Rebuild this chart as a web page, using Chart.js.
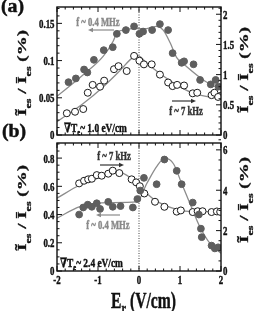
<!DOCTYPE html>
<html lang="en">
<head>
<meta charset="UTF-8">
<script src="https://cdn.jsdelivr.net/npm/chart.js@4.4.1/dist/chart.umd.min.js"></script>
<style>
  body { margin: 0; background: #fff; }
  #wrap { position: relative; width: 260px; height: 311px; overflow: hidden; }
  .panel { position: absolute; left: 0; width: 260px; }
</style>
</head>
<body>
<div id="wrap">
  <div class="panel" style="top:0;height:143px"><canvas id="chart-a"></canvas></div>
  <div class="panel" style="top:118px;height:193px"><canvas id="chart-b"></canvas></div>
</div>
<script>
// ---- data ----
var xTicks = [-2, -1, 0, 1, 2];

// (a) grad Te ~ 1.0 eV/cm
var aMhzE   = [-1.72, -1.54, -1.34, -1.26, -1.10, -0.86, -0.64, -0.54, -0.32, -0.12, 0.01, 0.10, 0.32, 0.51, 0.71, 0.82, 1.04, 1.10, 1.33, 1.49, 1.75, 1.87, 1.94];
var aMhzVal = [0.071, 0.076, 0.088, 0.084, 0.101, 0.114, 0.118, 0.136, 0.141, 0.146, 0.136, 0.139, 0.141, 0.149, 0.141, 0.110, 0.097, 0.099, 0.095, 0.074, 0.068, 0.074, 0.065];
var aKhzE   = [-1.76, -1.56, -1.36, -1.25, -1.13, -0.95, -0.85, -0.61, -0.50, -0.30, -0.12, 0.01, 0.12, 0.31, 0.51, 0.71, 0.82, 0.93, 1.10, 1.31, 1.42, 1.77, 1.84, 1.93];
var aKhzVal = [0.36, 0.385, 0.43, 0.70, 0.83, 0.80, 0.90, 1.09, 1.14, 1.06, 1.31, 1.23, 1.17, 1.17, 1.00, 0.87, 0.81, 0.83, 0.82, 0.69, 0.70, 0.66, 0.70, 0.63];
var aMhzFitE   = [-2, -1.36, -0.87, -0.63, -0.53, -0.38, -0.14, 0.19, 0.43, 0.59, 0.76, 0.92, 1.16, 1.57, 2];
var aMhzFitVal = [0.052, 0.081, 0.106, 0.126, 0.138, 0.141, 0.143, 0.143, 0.146, 0.141, 0.124, 0.104, 0.092, 0.074, 0.061];
var aKhzFitE   = [-2, -1.36, -0.87, -0.46, -0.14, -0.02, 0.19, 0.51, 0.92, 1.33, 2];
var aKhzFitVal = [0.22, 0.52, 0.80, 1.07, 1.29, 1.31, 1.19, 1.02, 0.83, 0.69, 0.60];
var aLeftTicks  = [0, 0.05, 0.1, 0.15];
var aRightTicks = [0, 0.5, 1, 1.5, 2];

// (b) grad Te ~ 2.4 eV/cm
var bKhzE   = [-1.46, -1.34, -1.24, -1.15, -1.03, -0.91, -0.75, -0.64, -0.48, -0.18, -0.07, 0.02, 0.13, 0.39, 0.62, 0.92, 1.02, 1.31, 1.43, 1.55, 1.77, 1.90, 1.98];
var bKhzVal = [4.34, 4.47, 4.54, 4.57, 4.75, 4.72, 4.82, 4.97, 4.85, 4.54, 4.39, 4.20, 3.84, 3.43, 3.18, 2.94, 3.00, 2.92, 2.96, 2.96, 2.92, 2.95, 2.93];
var bMhzE   = [-1.46, -1.36, -1.25, -1.15, -1.03, -0.95, -0.75, -0.64, -0.45, -0.15, -0.04, 0.03, 0.12, 0.43, 0.62, 0.92, 1.04, 1.31, 1.46, 1.51, 1.53, 1.77, 1.85, 1.93];
var bMhzVal = [0.40, 0.45, 0.47, 0.455, 0.48, 0.44, 0.49, 0.455, 0.46, 0.45, 0.51, 0.57, 0.66, 0.615, 0.79, 0.71, 0.615, 0.485, 0.40, 0.30, 0.24, 0.18, 0.16, 0.168];
var bKhzFitE   = [-2, -1.44, -1.0, -0.71, -0.46, -0.2, 0.02, 0.39, 0.92, 1.32, 2];
var bKhzFitVal = [3.61, 4.26, 4.60, 4.87, 4.87, 4.60, 4.17, 3.51, 3.05, 2.94, 2.94];
var bMhzFitE   = [-2, -1.44, -0.71, -0.05, 0.19, 0.43, 0.63, 0.84, 1.04, 1.24, 1.49, 1.73, 2];
var bMhzFitVal = [0.374, 0.456, 0.485, 0.49, 0.62, 0.74, 0.80, 0.76, 0.62, 0.48, 0.31, 0.196, 0.125];
var bLeftTicks  = [0, 0.2, 0.4, 0.6, 0.8];
var bRightTicks = [0, 2, 4, 6];

// ---- drawing helpers ----
var SERIF = '"Liberation Serif", "DejaVu Serif", serif';
var SQ = 0.68;  // the original figure is narrow, text is squeezed horizontally

function pts(E, v) {
  return E.map(function (e, i) { return { x: e, y: v[i] }; });
}

// runs: [text, size, dy]
function richText(ctx, runs, x, y, align, color, sx, rotate) {
  ctx.save();
  ctx.translate(x, y);
  ctx.scale(sx, 1);
  if (rotate) ctx.rotate(-Math.PI / 2);
  ctx.fillStyle = color;
  ctx.strokeStyle = color;
  ctx.lineWidth = 0.45;  // a bit heavier, like the scanned figure
  ctx.textBaseline = 'alphabetic';
  ctx.textAlign = 'left';
  var w = 0;
  runs.forEach(function (r) { ctx.font = 'bold ' + r[1] + 'px ' + SERIF; w += ctx.measureText(r[0]).width; });
  var cx = align === 'center' ? -w / 2 : (align === 'right' ? -w : 0);
  runs.forEach(function (r) {
    ctx.font = 'bold ' + r[1] + 'px ' + SERIF;
    ctx.fillText(r[0], cx, r[2] || 0);
    ctx.strokeText(r[0], cx, r[2] || 0);
    cx += ctx.measureText(r[0]).width;
  });
  ctx.restore();
}

function arrow(ctx, x1, x2, y, color) {
  var d = x2 > x1 ? 1 : -1;
  ctx.save();
  ctx.strokeStyle = color; ctx.fillStyle = color; ctx.lineWidth = 1.2;
  ctx.beginPath(); ctx.moveTo(x1, y); ctx.lineTo(x2 - d * 3, y); ctx.stroke();
  ctx.beginPath();
  ctx.moveTo(x2, y); ctx.lineTo(x2 - d * 5, y - 2.2); ctx.lineTo(x2 - d * 5, y + 2.2);
  ctx.closePath(); ctx.fill();
  ctx.restore();
}

function ratioTitle(ctx, x, y) {
  richText(ctx, [['Ĩ', 19], ['es', 12, 8], [' / ', 19], ['Ī', 19], ['es', 12, 8], [' (%)', 19]],
    x, y, 'center', '#111', SQ, true);
}

function yTickMarks(ctx, scale, step, majors, xEdge, dir) {
  var n = Math.round(scale.max / step);
  for (var i = 0; i <= n; i++) {
    var v = i * step;
    var py = scale.getPixelForValue(v);
    var major = majors.some(function (m) { return Math.abs(m - v) < step / 10; });
    ctx.moveTo(xEdge, py); ctx.lineTo(xEdge + dir * (major ? 5 : 2.5), py);
  }
}

function panelPlugin(p) {
  return {
    id: 'panel-' + p.name,
    beforeDatasetsDraw: function (chart) {
      var ctx = chart.ctx, a = chart.chartArea;
      var x0 = chart.scales.x.getPixelForValue(0);
      ctx.save();
      ctx.strokeStyle = '#444'; ctx.lineWidth = 1; ctx.setLineDash([1, 1.5]);
      ctx.beginPath(); ctx.moveTo(x0, a.top); ctx.lineTo(x0, a.bottom); ctx.stroke();
      ctx.restore();
    },
    afterDatasetsDraw: function (chart) {
      var ctx = chart.ctx, a = chart.chartArea, s = chart.scales;
      ctx.save();
      ctx.strokeStyle = '#111';
      ctx.lineWidth = 1.4;
      ctx.strokeRect(a.left, a.top, a.right - a.left, a.bottom - a.top);

      // inward ticks on all four sides
      ctx.lineWidth = 1;
      ctx.beginPath();
      for (var i = 0; i <= 20; i++) {
        var v = -2 + i * 0.2;
        var px = s.x.getPixelForValue(v);
        var len = i % 5 === 0 ? 5 : 2.5;
        ctx.moveTo(px, a.bottom); ctx.lineTo(px, a.bottom - len);
        ctx.moveTo(px, a.top); ctx.lineTo(px, a.top + len);
      }
      yTickMarks(ctx, s.yl, p.leftMinor, p.leftTicks, a.left, 1);
      yTickMarks(ctx, s.yr, p.rightMinor, p.rightTicks, a.right, -1);
      ctx.stroke();
      ctx.restore();

      // tick labels
      p.leftTicks.forEach(function (t) {
        richText(ctx, [[String(t), 13]], a.left - 2.5, s.yl.getPixelForValue(t) + 4.4, 'right', '#111', SQ);
      });
      p.rightTicks.forEach(function (t) {
        richText(ctx, [[String(t), 13]], a.right + 2, s.yr.getPixelForValue(t) + 4.4, 'left', '#111', SQ);
      });
      if (p.xLabels) {
        xTicks.forEach(function (t) {
          var lab = t < 0 ? '-' + Math.abs(t) : String(t);
          richText(ctx, [[lab, 13]], s.x.getPixelForValue(t), a.bottom + 12.5, 'center', '#111', SQ);
        });
      }
      p.decor(ctx, a);
    }
  };
}

function dots(E, v, axis, filled) {
  return {
    data: pts(E, v), yAxisID: axis, order: 1, showLine: false,
    pointRadius: filled ? 3.4 : 3.5, pointBorderWidth: 1,
    pointBackgroundColor: filled ? '#5e5e5e' : '#ffffff',
    pointBorderColor: filled ? '#5e5e5e' : '#1a1a1a'
  };
}

function fit(E, v, axis) {
  return {
    data: pts(E, v), yAxisID: axis, order: 2, showLine: true, pointRadius: 0,
    borderColor: '#8c8c8c', borderWidth: 1.3, cubicInterpolationMode: 'monotone', fill: false
  };
}

function makePanel(id, datasets, ylMax, yrMax, padding, plugin) {
  return new Chart(document.getElementById(id), {
    type: 'scatter',
    data: { datasets: datasets },
    options: {
      animation: false,
      responsive: true,
      maintainAspectRatio: false,
      layout: { padding: padding },
      plugins: { legend: { display: false }, tooltip: { enabled: false } },
      scales: {
        x:  { type: 'linear', min: -2, max: 2, display: false },
        yl: { type: 'linear', position: 'left', min: 0, max: ylMax, display: false },
        yr: { type: 'linear', position: 'right', min: 0, max: yrMax, display: false }
      }
    },
    plugins: [plugin]
  });
}

// ---- panel (a) ----
makePanel('chart-a', [
  dots(aMhzE, aMhzVal, 'yl', true),
  dots(aKhzE, aKhzVal, 'yr', false),
  fit(aMhzFitE, aMhzFitVal, 'yl'),
  fit(aKhzFitE, aKhzFitVal, 'yr')
], 0.172, 2.12, { left: 57, right: 39, top: 7, bottom: 8 }, panelPlugin({
  name: 'a', xLabels: false,
  leftTicks: aLeftTicks, leftMinor: 0.01,
  rightTicks: aRightTicks, rightMinor: 0.1,
  decor: function (ctx, a) {
    richText(ctx, [['(a)', 18]], 12.5, 12, 'center', '#111', 1.1);
    ratioTitle(ctx, 26, 73);
    ratioTitle(ctx, 248, 70);
    richText(ctx, [['f ~ 0.4 MHz', 12]], 98, 25.5, 'center', '#8a8a8a', 0.72);
    arrow(ctx, 114, 88, 30, '#8a8a8a');
    richText(ctx, [['f ~ 7 kHz', 12]], 186, 115, 'center', '#333', 0.72);
    arrow(ctx, 172, 196, 101, '#333');
    richText(ctx, [['∇T', 13], ['e', 9, 3], ['~ 1.0 eV/cm', 13]], 64, 132, 'left', '#111', 0.72);
  }
}));

// ---- panel (b) ----
makePanel('chart-b', [
  dots(bMhzE, bMhzVal, 'yl', true),
  dots(bKhzE, bKhzVal, 'yr', false),
  fit(bMhzFitE, bMhzFitVal, 'yl'),
  fit(bKhzFitE, bKhzFitVal, 'yr')
], 0.907, 6.34, { left: 57, right: 39, top: 25, bottom: 40 }, panelPlugin({
  name: 'b', xLabels: true,
  leftTicks: bLeftTicks, leftMinor: 0.05,
  rightTicks: bRightTicks, rightMinor: 0.5,
  decor: function (ctx, a) {
    richText(ctx, [['(b)', 18]], 14, 19, 'center', '#111', 1.1);
    ratioTitle(ctx, 26, 90);
    ratioTitle(ctx, 248, 82);
    richText(ctx, [['E', 23], ['r', 15, 5], [' (V/cm)', 23]], 143.5, 190, 'center', '#111', SQ);
    richText(ctx, [['f ~ 7 kHz', 12]], 114, 42, 'center', '#333', 0.72);
    arrow(ctx, 100, 124, 47, '#333');
    richText(ctx, [['f ~ 0.4 MHz', 12]], 108, 111, 'center', '#8a8a8a', 0.72);
    arrow(ctx, 120, 96, 97, '#8a8a8a');
    richText(ctx, [['∇T', 13], ['e', 9, 3], ['~ 2.4 eV/cm', 13]], 60, 149, 'left', '#111', 0.72);
  }
}));
</script>
</body>
</html>
